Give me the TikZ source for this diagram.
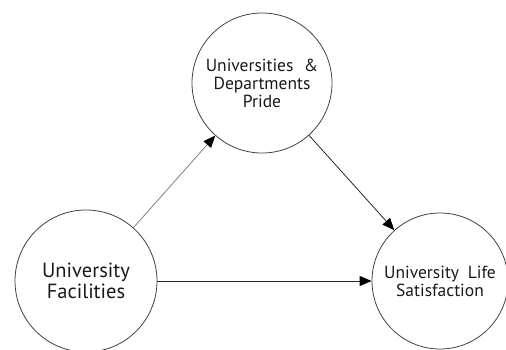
\documentclass[tikz,border=0pt]{standalone}
\usepackage{fontspec}
\setmainfont{PT Sans}
\usetikzlibrary{arrows.meta}
\begin{document}
\begin{tikzpicture}[x=1pt,y=-1pt,
  construct/.style={circle,draw=black!75,line width=0.8pt,inner sep=0pt,align=center,text=black!90},
  link/.style={draw=black!85,line width=0.8pt,-{Triangle[length=12pt,width=10pt,fill=black,color=black]}}]
\useasboundingbox (0,0) rectangle (506,349);
\node[construct,minimum size=142pt,font=\fontsize{20.5}{21}\selectfont] (F) at (86,281) {University\\Facilities};
\node[construct,minimum size=140pt,font=\fontsize{17.5}{18}\selectfont] (P) at (262,83) {Universities\hspace{0.6em}\&\\Departments\\Pride};
\node[construct,minimum size=136pt,font=\fontsize{17.5}{18}\selectfont] (S) at (440,281) {University\hspace{0.5em}Life\\Satisfaction};
\draw[link,draw=black!50] (F) -- (P);
\draw[link] (P) -- (S);
\draw[link] (F) -- (S);
\end{tikzpicture}
\end{document}
